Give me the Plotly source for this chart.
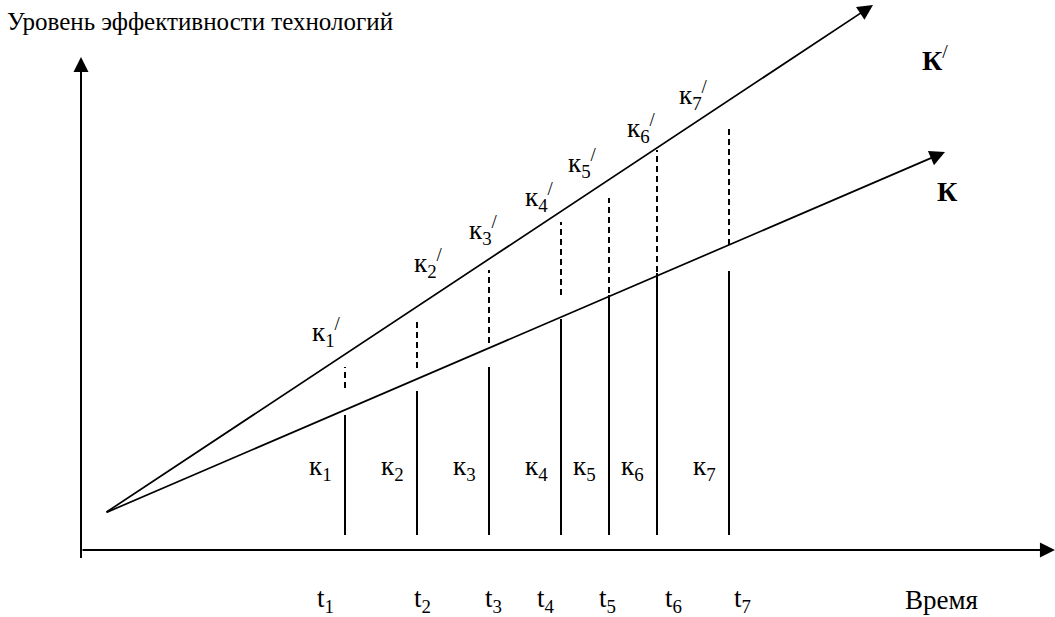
import plotly.graph_objects as go

# schematic units: 1 unit = 24 px, origin at the crossing of the axes
t_vals = [11, 14, 17, 20, 22, 24, 27]
t_labels = ["t<sub>1</sub>", "t<sub>2</sub>", "t<sub>3</sub>", "t<sub>4</sub>",
            "t<sub>5</sub>", "t<sub>6</sub>", "t<sub>7</sub>"]
k_labels = ["к<sub>%d</sub>" % i for i in range(1, 8)]
kp_labels = ["к<sub>%d</sub><sup>/</sup>" % i for i in range(1, 8)]

solid_base = 0.63
solid_top = [5.63, 6.63, 7.63, 9.63, 10.63, 11.54, 11.63]
dash_top = [7.63, 9.67, 11.67, 13.67, 14.67, 16.67, 17.63]
dash_bottom = [6.75, 7.58, 8.63, 10.63, 10.71, 11.58, 12.71]

origin = [1, 1.54]
kprime_end = [33, 22.71]
k_end = [36, 16.58]

title = "Уровень эффективности технологий"
x_title = "Время"

# label placement (layout only)
kp_pos_x = [9.54, 13.79, 16.08, 18.42, 20.21, 22.67, 24.83]
kp_pos_y = [9.08, 11.96, 13.33, 14.71, 16.12, 17.58, 18.96]
t_pos_x = [9.75, 13.79, 16.75, 18.92, 21.5, 24.25, 27.12]

FONT = "'Liberation Serif', 'Times New Roman', serif"
fs = 27

fig = go.Figure()

# vertical solid segments
xs, ys = [], []
for t, top in zip(t_vals, solid_top):
    xs += [t, t, None]
    ys += [solid_base, top, None]
fig.add_trace(go.Scatter(x=xs, y=ys, mode="lines",
                         line=dict(color="black", width=2), hoverinfo="skip"))

# vertical dashed segments
xs, ys = [], []
for t, a, b in zip(t_vals, dash_bottom, dash_top):
    xs += [t, t, None]
    ys += [a, b, None]
fig.add_trace(go.Scatter(x=xs, y=ys, mode="lines",
                         line=dict(color="black", width=2, dash="6px,4px"),
                         hoverinfo="skip"))

# arrows: axes and the two growth lines
arrows = [
    (0, -0.4, 0, 20.54, 2, 1.5),
    (0, 0, 40.58, 0, 2, 1.5),
    (origin[0], origin[1], kprime_end[0], kprime_end[1], 1.7, 1.8),
    (origin[0], origin[1], k_end[0], k_end[1], 1.7, 1.8),
]
for x0, y0, x1, y1, w, s in arrows:
    fig.add_annotation(x=x1, y=y1, ax=x0, ay=y0, xref="x", yref="y",
                       axref="x", ayref="y", text="", showarrow=True,
                       arrowhead=2, arrowwidth=w, arrowsize=s,
                       arrowcolor="black", standoff=0, startstandoff=0)

txt = dict(family=FONT, size=fs, color="black")

for t, lab in zip(t_vals, k_labels):
    fig.add_annotation(x=t - 0.45, y=3.42, text=lab, showarrow=False,
                       xanchor="right", yanchor="middle", font=txt)

for x, y, lab in zip(kp_pos_x, kp_pos_y, kp_labels):
    fig.add_annotation(x=x, y=y, text=lab, showarrow=False,
                       xanchor="left", yanchor="middle", font=txt)

for x, lab in zip(t_pos_x, t_labels):
    fig.add_annotation(x=x, y=-2.08, text=lab, showarrow=False,
                       xanchor="left", yanchor="middle", font=txt)

fig.add_annotation(x=34.25, y=-2.1, text=x_title, showarrow=False,
                   xanchor="left", yanchor="middle", font=txt)
fig.add_annotation(x=34.96, y=20.46, text="<b>К</b><sup>/</sup>", showarrow=False,
                   xanchor="left", yanchor="middle",
                   font=dict(family=FONT, size=28, color="black"))
fig.add_annotation(x=35.58, y=14.92, text="<b>К</b>", showarrow=False,
                   xanchor="left", yanchor="middle",
                   font=dict(family=FONT, size=28, color="black"))
fig.add_annotation(x=5 / 1055, y=1 - 22 / 617, xref="paper", yref="paper",
                   text=title, showarrow=False, xanchor="left", yanchor="middle",
                   font=dict(family=FONT, size=25, color="black"))

fig.update_layout(
    width=1055, height=617,
    margin=dict(l=0, r=0, t=0, b=0),
    paper_bgcolor="white", plot_bgcolor="white",
    showlegend=False,
    xaxis=dict(range=[-81 / 24, 974 / 24], visible=False, fixedrange=True),
    yaxis=dict(range=[-67 / 24, 550 / 24], visible=False, fixedrange=True),
)

fig.write_html("out.html", config={"displayModeBar": False},
               post_script="document.body.style.margin='0';"
                           "document.body.style.overflow='hidden';")
